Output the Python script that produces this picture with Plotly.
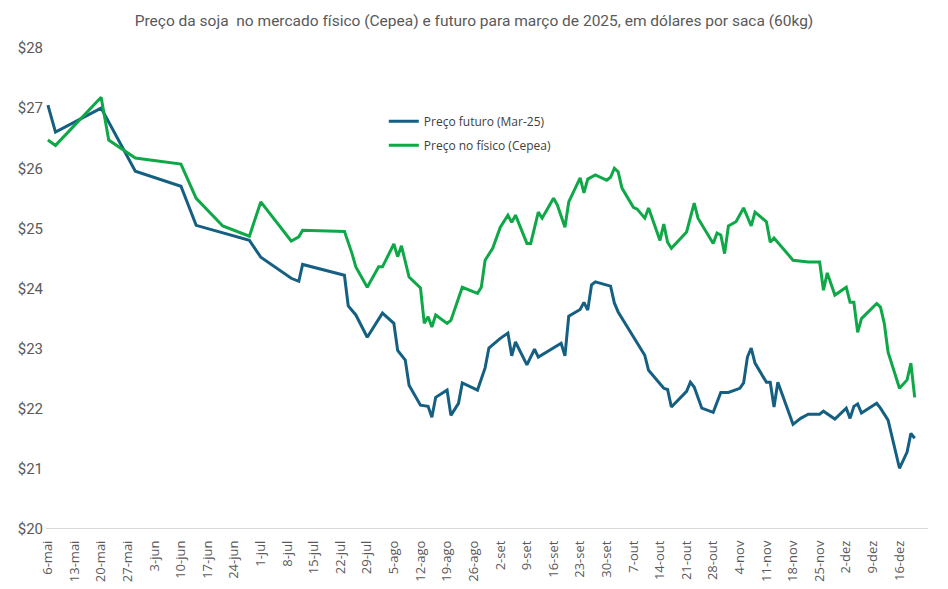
import pandas as pd
import plotly.graph_objects as go

title = "Preço da soja  no mercado físico (Cepea) e futuro para março de 2025, em dólares por saca (60kg)"

futuro_dates = [
    "2024-05-06", "2024-05-08", "2024-05-20", "2024-05-29", "2024-06-10", "2024-06-14",
    "2024-06-28", "2024-07-01", "2024-07-09", "2024-07-11", "2024-07-12", "2024-07-23",
    "2024-07-24", "2024-07-26", "2024-07-29", "2024-07-31", "2024-08-02", "2024-08-05",
    "2024-08-06", "2024-08-08", "2024-08-09", "2024-08-12", "2024-08-14", "2024-08-15",
    "2024-08-16", "2024-08-19", "2024-08-20", "2024-08-22", "2024-08-23", "2024-08-27",
    "2024-08-29", "2024-08-30", "2024-09-02", "2024-09-04", "2024-09-05", "2024-09-06",
    "2024-09-09", "2024-09-11", "2024-09-12", "2024-09-18", "2024-09-19", "2024-09-20",
    "2024-09-23", "2024-09-24", "2024-09-25", "2024-09-26", "2024-09-27", "2024-10-01",
    "2024-10-02", "2024-10-03", "2024-10-08", "2024-10-10", "2024-10-11", "2024-10-15",
    "2024-10-16", "2024-10-17", "2024-10-21", "2024-10-22", "2024-10-23", "2024-10-25",
    "2024-10-28", "2024-10-30", "2024-11-01", "2024-11-04", "2024-11-05", "2024-11-06",
    "2024-11-07", "2024-11-08", "2024-11-11", "2024-11-12", "2024-11-13", "2024-11-14",
    "2024-11-18", "2024-11-20", "2024-11-22", "2024-11-25", "2024-11-26", "2024-11-29",
    "2024-12-02", "2024-12-03", "2024-12-04", "2024-12-05", "2024-12-06", "2024-12-10",
    "2024-12-11", "2024-12-13", "2024-12-16", "2024-12-18", "2024-12-19", "2024-12-20",
]
futuro_values = [
    27.05, 26.60, 27.00, 25.95, 25.70, 25.05,
    24.80, 24.52, 24.17, 24.12, 24.40, 24.22,
    23.71, 23.56, 23.19, 23.39, 23.59, 23.42,
    22.97, 22.81, 22.39, 22.06, 22.04, 21.86,
    22.19, 22.31, 21.89, 22.09, 22.43, 22.31,
    22.68, 23.01, 23.17, 23.26, 22.88, 23.11,
    22.73, 22.99, 22.86, 23.09, 22.88, 23.54,
    23.65, 23.77, 23.64, 24.06, 24.11, 24.04,
    23.76, 23.61, 23.09, 22.89, 22.64, 22.34,
    22.32, 22.03, 22.29, 22.44, 22.36, 22.01,
    21.94, 22.27, 22.27, 22.34, 22.43, 22.86,
    23.01, 22.76, 22.44, 22.44, 22.03, 22.44,
    21.74, 21.84, 21.91, 21.91, 21.96, 21.83,
    22.01, 21.84, 22.04, 22.08, 21.93, 22.09,
    22.01, 21.81, 21.01, 21.28, 21.59, 21.51,
]

fisico_dates = [
    "2024-05-06", "2024-05-08", "2024-05-20", "2024-05-22", "2024-05-29", "2024-06-10",
    "2024-06-14", "2024-06-21", "2024-06-28", "2024-07-01", "2024-07-09", "2024-07-11",
    "2024-07-12", "2024-07-23", "2024-07-25", "2024-07-26", "2024-07-29", "2024-08-01",
    "2024-08-02", "2024-08-05", "2024-08-06", "2024-08-07", "2024-08-09", "2024-08-12",
    "2024-08-13", "2024-08-14", "2024-08-15", "2024-08-16", "2024-08-19", "2024-08-20",
    "2024-08-23", "2024-08-27", "2024-08-28", "2024-08-29", "2024-08-31", "2024-09-02",
    "2024-09-04", "2024-09-05", "2024-09-06", "2024-09-09", "2024-09-10", "2024-09-12",
    "2024-09-13", "2024-09-16", "2024-09-17", "2024-09-19", "2024-09-20", "2024-09-23",
    "2024-09-24", "2024-09-25", "2024-09-27", "2024-09-30", "2024-10-01", "2024-10-02",
    "2024-10-03", "2024-10-04", "2024-10-07", "2024-10-08", "2024-10-10", "2024-10-11",
    "2024-10-14", "2024-10-15", "2024-10-16", "2024-10-17", "2024-10-21", "2024-10-23",
    "2024-10-24", "2024-10-28", "2024-10-29", "2024-10-30", "2024-10-31", "2024-11-01",
    "2024-11-03", "2024-11-05", "2024-11-07", "2024-11-08", "2024-11-11", "2024-11-12",
    "2024-11-13", "2024-11-18", "2024-11-22", "2024-11-25", "2024-11-26", "2024-11-27",
    "2024-11-29", "2024-12-02", "2024-12-03", "2024-12-04", "2024-12-05", "2024-12-06",
    "2024-12-10", "2024-12-11", "2024-12-12", "2024-12-13", "2024-12-16", "2024-12-18",
    "2024-12-19", "2024-12-20",
]
fisico_values = [
    26.47, 26.38, 27.18, 26.47, 26.17, 26.07,
    25.50, 25.04, 24.87, 25.44, 24.79, 24.86,
    24.97, 24.95, 24.58, 24.36, 24.02, 24.36,
    24.36, 24.74, 24.53, 24.71, 24.19, 24.01,
    23.42, 23.53, 23.36, 23.56, 23.42, 23.47,
    24.02, 23.92, 24.02, 24.47, 24.67, 25.02,
    25.22, 25.10, 25.22, 24.75, 24.75, 25.27,
    25.17, 25.50, 25.39, 25.02, 25.44, 25.84,
    25.59, 25.82, 25.89, 25.80, 25.85, 26.00,
    25.94, 25.67, 25.35, 25.32, 25.17, 25.34,
    24.80, 25.07, 24.77, 24.67, 24.94, 25.42,
    25.17, 24.75, 24.92, 24.89, 24.58, 25.04,
    25.11, 25.34, 25.04, 25.27, 25.11, 24.77,
    24.84, 24.47, 24.44, 24.44, 23.97, 24.26,
    23.89, 24.02, 23.77, 23.77, 23.27, 23.50,
    23.75, 23.69, 23.42, 22.94, 22.34, 22.48,
    22.76, 22.19,
]

tick_labels = [
    "6-mai", "13-mai", "20-mai", "27-mai", "3-jun", "10-jun", "17-jun", "24-jun",
    "1-jul", "8-jul", "15-jul", "22-jul", "29-jul", "5-ago", "12-ago", "19-ago",
    "26-ago", "2-set", "9-set", "16-set", "23-set", "30-set", "7-out", "14-out",
    "21-out", "28-out", "4-nov", "11-nov", "18-nov", "25-nov", "2-dez", "9-dez", "16-dez",
]
tick_dates = pd.date_range("2024-05-06", periods=len(tick_labels), freq="7D")

y_ticks = [20, 21, 22, 23, 24, 25, 26, 27, 28]
y_labels = ["$" + str(v) for v in y_ticks]

fig = go.Figure()
fig.add_trace(go.Scatter(
    x=pd.to_datetime(futuro_dates), y=futuro_values, mode="lines",
    name="Preço futuro (Mar-25)", legendgroup="f", line=dict(color="#156082", width=3),
))
fig.add_trace(go.Scatter(
    x=pd.to_datetime(fisico_dates), y=fisico_values, mode="lines",
    name="Preço no físico (Cepea)", legendgroup="c", line=dict(color="#0FA848", width=3),
))

fig.update_layout(
    width=948, height=589,
    margin=dict(l=46, r=20, t=48, b=60),
    paper_bgcolor="white", plot_bgcolor="white",
    title=dict(text=title, x=0.5, xanchor="center", y=0.965, yanchor="middle",
               font=dict(family="Roboto, Lato", size=15.5, color="#595959")),
    legend=dict(x=0.383, y=0.878, xanchor="left", yanchor="top",
                bgcolor="rgba(0,0,0,0)", font=dict(family="Open Sans, Lato", size=12, color="#404040"),
                itemwidth=30, tracegroupgap=5),
    xaxis=dict(
        type="date",
        range=["2024-05-05 12:00", "2024-12-23 12:00"],
        tickvals=tick_dates, ticktext=tick_labels, tickangle=-90,
        showgrid=False, zeroline=False,
        showline=False, ticks="",
        tickfont=dict(family="Open Sans, Lato", size=13, color="#595959"),
        ticklabelstandoff=8,
        automargin=False,
    ),
    yaxis=dict(
        range=[20, 28], tickvals=y_ticks, ticktext=y_labels,
        showgrid=False, zeroline=False, showline=False, ticks="",
        tickfont=dict(family="Roboto, Lato", size=15, color="#595959"),
        ticklabelstandoff=2,
        automargin=False,
    ),
    showlegend=True,
)
fig.add_hline(y=20, line=dict(color="#D9D9D9", width=2), layer="below")

fig.write_html("out.html")
